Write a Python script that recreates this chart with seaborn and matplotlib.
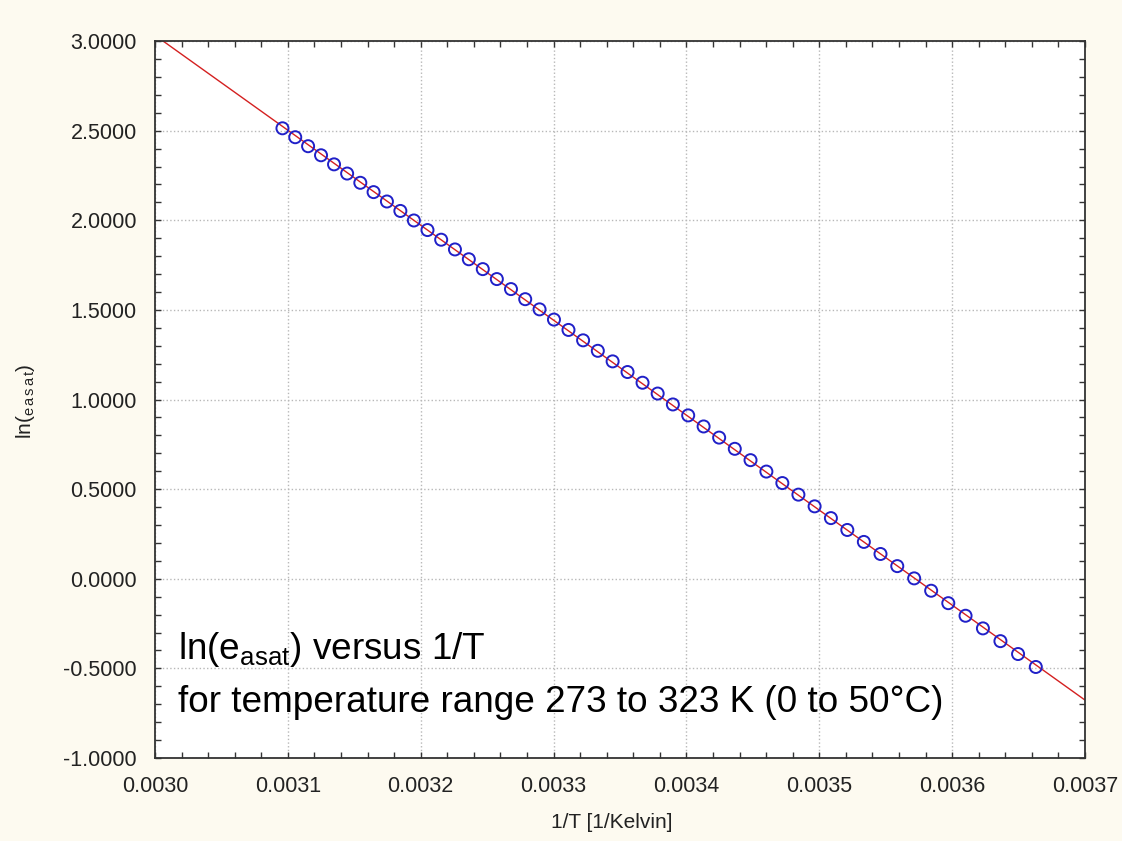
import numpy as np
import pandas as pd
import matplotlib
matplotlib.use("Agg")
import matplotlib.pyplot as plt
import seaborn as sns
from matplotlib.ticker import MultipleLocator, FormatStrFormatter

# ---- data ----
temperature_K = [273, 274, 275, 276, 277, 278, 279, 280, 281, 282,
                 283, 284, 285, 286, 287, 288, 289, 290, 291, 292,
                 293, 294, 295, 296, 297, 298, 299, 300, 301, 302,
                 303, 304, 305, 306, 307, 308, 309, 310, 311, 312,
                 313, 314, 315, 316, 317, 318, 319, 320, 321, 322, 323]
ln_esat = [-0.4922, -0.4199, -0.3481, -0.2769, -0.2064, -0.1362, -0.0668, 0.0021,
           0.0705, 0.1382, 0.2055, 0.2722, 0.3384, 0.4040, 0.4693, 0.5339,
           0.5980, 0.6617, 0.7249, 0.7875, 0.8497, 0.9114, 0.9725, 1.0333,
           1.0936, 1.1534, 1.2128, 1.2717, 1.3302, 1.3882, 1.4459, 1.5030,
           1.5598, 1.6161, 1.6720, 1.7275, 1.7826, 1.8373, 1.8916, 1.9455,
           1.9989, 2.0521, 2.1048, 2.1571, 2.2091, 2.2607, 2.3120, 2.3627,
           2.4133, 2.4634, 2.5132]
x_ticks = [0.0030, 0.0031, 0.0032, 0.0033, 0.0034, 0.0035, 0.0036, 0.0037]
y_ticks = [-1.0, -0.5, 0.0, 0.5, 1.0, 1.5, 2.0, 2.5, 3.0]

inv_T = [1.0 / t for t in temperature_K]
df = pd.DataFrame({"inv_T": inv_T, "ln_esat": ln_esat})

# ---- style ----
sns.set_style("ticks")
plt.rcParams['font.family'] = ['Liberation Sans', 'DejaVu Sans']
plt.rcParams['mathtext.fontset'] = 'custom'
plt.rcParams['mathtext.rm'] = 'Liberation Sans'
plt.rcParams['mathtext.it'] = 'Liberation Sans'
plt.rcParams['mathtext.default'] = 'rm'

fig = plt.figure(figsize=(11.22, 8.41), dpi=100, facecolor='#fdfaf0')
ax = fig.add_axes([0.1381, 0.0987, 0.8289, 0.8525])
ax.set_facecolor('white')
ax.set_xlim(x_ticks[0], x_ticks[-1])
ax.set_ylim(y_ticks[0], y_ticks[-1])

sns.regplot(data=df, x='inv_T', y='ln_esat', scatter=False, ci=None,
            truncate=False, color='#d42020', line_kws=dict(lw=1.0, zorder=2), ax=ax)
sns.scatterplot(data=df, x='inv_T', y='ln_esat', marker='o', s=75,
                facecolor='none', edgecolor='#2020c8', linewidth=1.4,
                ax=ax, zorder=3)

ax.set_xlim(x_ticks[0], x_ticks[-1])
ax.set_ylim(y_ticks[0], y_ticks[-1])
ax.set_xticks(x_ticks)
ax.set_yticks(y_ticks)
ax.xaxis.set_minor_locator(MultipleLocator(0.00002))
ax.yaxis.set_minor_locator(MultipleLocator(0.1))
ax.xaxis.set_major_formatter(FormatStrFormatter('%.4f'))
ax.yaxis.set_major_formatter(FormatStrFormatter('%.4f'))
ax.tick_params(which='both', direction='in', top=True, right=True,
               length=4, width=1, color='#333333')
ax.tick_params(axis='both', which='major', labelsize=15.5, labelcolor='#222222')
ax.tick_params(axis='x', which='major', pad=13)
ax.tick_params(axis='y', which='major', pad=13)

ax.grid(True, which='major', linestyle=':', color='#b8b8b8', lw=1)
for s in ax.spines.values():
    s.set_visible(True)
    s.set_color('#333333')
    s.set_linewidth(1.3)

ax.set_xlabel('1/T [1/Kelvin]', fontsize=15, color='#222222')
ax.set_ylabel(r'ln($_{e\,a\,s\,a\,t}$)', fontsize=15, color='#222222')
ax.xaxis.set_label_coords(0.4914, -0.0767)
ax.yaxis.set_label_coords(-0.127, 0.497)

ax.text(0.0247, 0.151, r'ln(e$_{asat}$) versus 1/T', transform=ax.transAxes,
        fontsize=26.6, ha='left', va='center', color='black')
ax.text(0.0247, 0.078, 'for temperature range 273 to 323 K (0 to 50°C)',
        transform=ax.transAxes, fontsize=26.6, ha='left', va='center', color='black')

fig.savefig('out.png', dpi=100, facecolor=fig.get_facecolor())
